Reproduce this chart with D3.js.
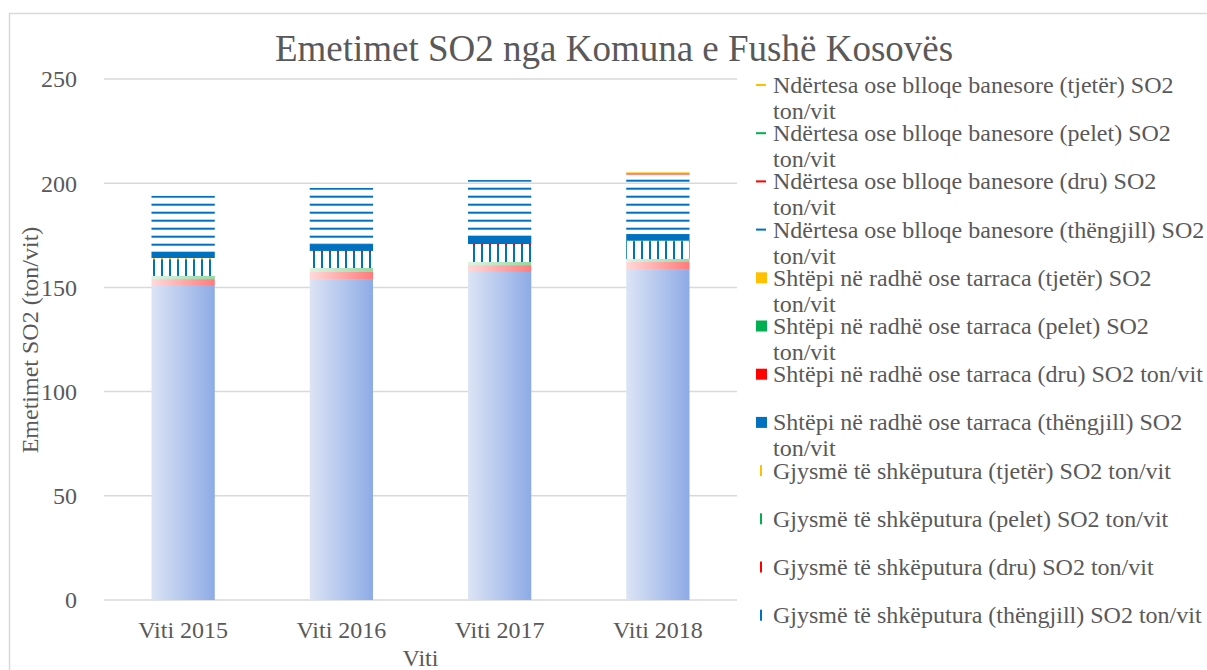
<!DOCTYPE html>
<html>
<head>
<meta charset="utf-8">
<script src="https://cdn.jsdelivr.net/npm/d3@7"></script>
<style>
  body { margin: 0; background: #fff; }
  text { font-family: "Liberation Serif", "Times New Roman", serif; fill: #595959; }
</style>
</head>
<body>
<div id="chart"></div>
<script>
// values (ton/vit)
const years = ["Viti 2015", "Viti 2016", "Viti 2017", "Viti 2018"];
const yTicks = [0, 50, 100, 150, 200, 250];

const gjysmeThengjill   = [150.7, 154.0, 157.4, 158.8];
const gjysmeDru         = [3.3, 3.4, 3.3, 3.4];
const gjysmePelet       = [1.5, 1.9, 1.5, 1.4];
const gjysmeTjeter      = [8.6, 8.2, 8.6, 8.8];
const shtepiThengjill   = [2.9, 3.3, 3.9, 3.2];
const shtepiDru         = [0, 0, 0, 0];
const shtepiPelet       = [0, 0, 0, 0];
const shtepiTjeter      = [0, 0, 0, 0];
const ndertesaThengjill = [27.0, 26.9, 26.8, 28.6];
const ndertesaDru       = [0, 0, 0, 0.5];
const ndertesaPelet     = [0, 0, 0, 0];
const ndertesaTjeter    = [0, 0, 0, 0.5];

const series = [
  {name: "Gjysmë të shkëputura (thëngjill) SO2 ton/vit", values: gjysmeThengjill},
  {name: "Gjysmë të shkëputura (dru) SO2 ton/vit", values: gjysmeDru},
  {name: "Gjysmë të shkëputura (pelet) SO2 ton/vit", values: gjysmePelet},
  {name: "Gjysmë të shkëputura (tjetër) SO2 ton/vit", values: gjysmeTjeter},
  {name: "Shtëpi në radhë ose tarraca (thëngjill) SO2 ton/vit", values: shtepiThengjill},
  {name: "Shtëpi në radhë ose tarraca (dru) SO2 ton/vit", values: shtepiDru},
  {name: "Shtëpi në radhë ose tarraca (pelet) SO2 ton/vit", values: shtepiPelet},
  {name: "Shtëpi në radhë ose tarraca (tjetër) SO2 ton/vit", values: shtepiTjeter},
  {name: "Ndërtesa ose blloqe banesore (thëngjill) SO2 ton/vit", values: ndertesaThengjill},
  {name: "Ndërtesa ose blloqe banesore (dru) SO2 ton/vit", values: ndertesaDru},
  {name: "Ndërtesa ose blloqe banesore (pelet) SO2 ton/vit", values: ndertesaPelet},
  {name: "Ndërtesa ose blloqe banesore (tjetër) SO2 ton/vit", values: ndertesaTjeter}
];

// styling
const fills = ["url(#gBlue)", "url(#gRed)", "url(#gGreen)", "url(#vLines)",
  "#0070c0", "#ff0000", "#00b050", "#ffc000",
  "url(#hLines)", "#ff0000", "#00b050", "#ffc000"];
const legendColors = ["#0070c0", "#ff0000", "#00b050", "#ffc000"];
const markerType = ["vline", "vline", "vline", "vline", "square", "square", "square", "square",
  "hline", "hline", "hline", "hline"];
const tipColors = ["#ffc000", "#ff0000", "#ff0000", "#00b050"];

const W = 1207, H = 670;
const plot = {left: 104, right: 737, top: 79, bottom: 600};

const svg = d3.select("#chart").append("svg")
  .attr("width", W).attr("height", H);

const defs = svg.append("defs");
function grad(id, c1, c2) {
  let g = defs.append("linearGradient").attr("id", id)
    .attr("x1", 0).attr("x2", 1).attr("y1", 0).attr("y2", 0);
  g.append("stop").attr("offset", "0%").attr("stop-color", c1);
  g.append("stop").attr("offset", "100%").attr("stop-color", c2);
}
grad("gBlue", "#dce4f5", "#8eabe6");
grad("gRed", "#ffd9d9", "#ff7b7b");
grad("gGreen", "#dff3e2", "#93d8a0");

defs.append("pattern").attr("id", "vLines").attr("patternUnits", "userSpaceOnUse")
  .attr("width", 8).attr("height", 8)
  .append("rect").attr("x", 1).attr("y", 0).attr("width", 2).attr("height", 8).attr("fill", "#0070c0");
tipColors.forEach((c, i) => {
  defs.append("pattern").attr("id", "vTip" + i).attr("patternUnits", "userSpaceOnUse")
    .attr("width", 8).attr("height", 8)
    .append("rect").attr("x", 1).attr("y", 0).attr("width", 2).attr("height", 8).attr("fill", c);
});
defs.append("pattern").attr("id", "hLines").attr("patternUnits", "userSpaceOnUse")
  .attr("width", 8).attr("height", 8)
  .append("rect").attr("x", 0).attr("y", 3.7).attr("width", 8).attr("height", 2).attr("fill", "#0070c0");

// chart frame
svg.append("rect").attr("x", 9.5).attr("y", 13.5).attr("width", 1300).attr("height", 700)
  .attr("fill", "none").attr("stroke", "#d9d9d9").attr("stroke-width", 1.5);

const x = d3.scaleBand().domain(years).range([plot.left, plot.right])
  .paddingInner(0.6).paddingOuter(0.3);
const y = d3.scaleLinear().domain([0, 250]).range([plot.bottom, plot.top]);

// gridlines
svg.append("g").selectAll("line").data(yTicks).join("line")
  .attr("x1", plot.left).attr("x2", plot.right)
  .attr("y1", d => y(d)).attr("y2", d => y(d))
  .attr("stroke", "#d9d9d9").attr("stroke-width", 1.5);

svg.append("g").selectAll("text").data(yTicks).join("text")
  .attr("x", 77).attr("y", d => y(d)).attr("dy", "0.35em")
  .attr("text-anchor", "end").style("font-size", "24px")
  .text(d => d);

// stacked bars
const table = years.map((yr, i) => {
  let row = {year: yr};
  series.forEach((s, k) => row["s" + k] = s.values[i]);
  return row;
});
const keys = series.map((s, k) => "s" + k);
const stacked = d3.stack().keys(keys)(table);

const layers = svg.append("g").selectAll("g").data(stacked).join("g")
  .attr("fill", (d, k) => fills[k]);
layers.selectAll("rect").data(d => d).join("rect")
  .attr("x", d => x(d.data.year))
  .attr("width", x.bandwidth())
  .attr("y", d => y(d[1]))
  .attr("height", d => Math.max(0, y(d[0]) - y(d[1])));

// coloured tips on the vertical lines
svg.append("g").selectAll("rect").data(stacked[3]).join("rect")
  .attr("x", d => x(d.data.year))
  .attr("width", x.bandwidth())
  .attr("y", d => y(d[1]))
  .attr("height", 1.5)
  .attr("fill", (d, i) => "url(#vTip" + i + ")");

// x labels
svg.append("g").selectAll("text").data(years).join("text")
  .attr("x", d => x(d) + x.bandwidth() / 2).attr("y", 638)
  .attr("text-anchor", "middle").style("font-size", "24px")
  .text(d => d);

// titles
svg.append("text").attr("x", 614).attr("y", 61).attr("text-anchor", "middle")
  .style("font-size", "37px").text("Emetimet SO2 nga Komuna e Fushë Kosovës");
svg.append("text").attr("x", (plot.left + plot.right) / 2).attr("y", 666)
  .attr("text-anchor", "middle").style("font-size", "24px").text("Viti");
svg.append("text").attr("transform", "translate(38,340) rotate(-90)")
  .attr("text-anchor", "middle").style("font-size", "24px").text("Emetimet SO2 (ton/vit)");

// legend (reverse order, wraps long names)
const legend = svg.append("g");
const maxW = 432;
series.slice().reverse().forEach((s, j) => {
  const k = series.length - 1 - j;
  const base = 93 + j * 48.2;
  const col = legendColors[k % 4];
  const mid = base - 8;
  if (markerType[k] === "hline") {
    legend.append("rect").attr("x", 756).attr("y", mid - 1).attr("width", 10).attr("height", 2).attr("fill", col);
  } else if (markerType[k] === "square") {
    legend.append("rect").attr("x", 756).attr("y", mid - 5.5).attr("width", 11).attr("height", 11).attr("fill", col);
  } else {
    legend.append("rect").attr("x", 760).attr("y", mid - 5.5).attr("width", 2).attr("height", 11).attr("fill", col);
  }
  const t = legend.append("text").attr("x", 773).attr("y", base).style("font-size", "24px").text(s.name);
  if (t.node().getComputedTextLength() > maxW) {
    const words = s.name.split(" ");
    let line = [];
    t.text("");
    let ts = t.append("tspan").attr("x", 773).attr("y", base);
    let n = 0;
    words.forEach(w => {
      line.push(w);
      ts.text(line.join(" "));
      if (ts.node().getComputedTextLength() > maxW && line.length > 1) {
        line.pop();
        ts.text(line.join(" "));
        line = [w];
        n++;
        ts = t.append("tspan").attr("x", 773).attr("y", base + n * 26).text(w);
      }
    });
  }
});
</script>
</body>
</html>
